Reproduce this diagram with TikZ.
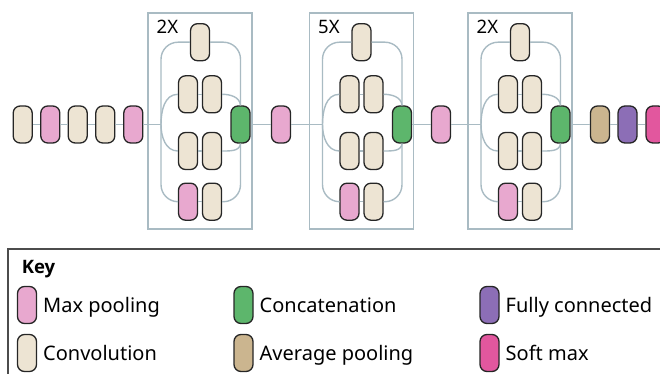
\documentclass[tikz,border=0pt]{standalone}
\usepackage{fontspec}
\setmainfont{Noto Sans}
\newfontfamily\keyfont{Open Sans}
\usetikzlibrary{calc}

\definecolor{convC}{HTML}{EDE4D3}
\definecolor{poolC}{HTML}{E8A8CF}
\definecolor{catC}{HTML}{5DB66C}
\definecolor{avgC}{HTML}{CBB58F}
\definecolor{fcC}{HTML}{8C6EB6}
\definecolor{smC}{HTML}{E2579E}
\definecolor{linkC}{HTML}{A9BBC3}

\tikzset{
  layer/.style={draw=black!85, line width=1.3pt, rounded corners=7pt,
                minimum width=19pt, minimum height=37pt, inner sep=0pt},
  conv/.style={layer, fill=convC},
  maxpool/.style={layer, fill=poolC},
  concat/.style={layer, fill=catC},
  avgpool/.style={layer, fill=avgC},
  fullconn/.style={layer, fill=fcC},
  softmax/.style={layer, fill=smC},
  link/.style={draw=linkC, line width=1.4pt},
  frame/.style={draw=linkC, line width=1.3pt},
  keytext/.style={anchor=base west, inner sep=0pt}
}

\begin{document}
\begin{tikzpicture}[x=1pt, y=1pt, font=\fontsize{20}{24}\selectfont]
\useasboundingbox (0,0) rectangle (660,-374);

% stem
\node[conv] (s1) at (22.7,-124.5) {};
\node[maxpool] (s2) at (50.3,-124.5) {};
\node[conv] (s3) at (77.7,-124.5) {};
\node[conv] (s4) at (105.3,-124.5) {};
\node[maxpool] (s5) at (133.3,-124.5) {};
\foreach \a/\b in {s1/s2, s2/s3, s3/s4, s4/s5}
  \draw[link] (\a.east) -- (\b.west);

% inception modules
\foreach \m/\cx/\rep in {1/200/2X, 2/361.5/5X, 3/520/2X} {
  \draw[frame] (\cx-52,-13) rectangle (\cx+52,-229);
  \node[anchor=base west, inner sep=0pt, font=\fontsize{18.5}{22}\selectfont]
    (rep\m) at (\cx-43.5,-33.5) {\rep};
  \node[conv] (t\m) at (\cx,-42.2) {};
  \node[conv] (a\m) at (\cx-12,-94.3) {};
  \node[conv] (b\m) at (\cx+12,-94.3) {};
  \node[conv] (c\m) at (\cx-12,-151) {};
  \node[conv] (d\m) at (\cx+12,-151) {};
  \node[maxpool] (e\m) at (\cx-12,-201.7) {};
  \node[conv] (f\m) at (\cx+12,-201.7) {};
  \node[concat] (cat\m) at (\cx+40.5,-124.5) {};
  \coordinate (in\m) at (\cx-39,-124.5);
  \draw[link] (a\m.east) -- (b\m.west) (c\m.east) -- (d\m.west)
              (e\m.east) -- (f\m.west);
  \draw[link, rounded corners=17pt] (t\m.west) -| (in\m) |- (e\m.west);
  \draw[link, rounded corners=17pt] (t\m.east) -| (cat\m.north);
  \draw[link, rounded corners=17pt] (f\m.east) -| (cat\m.south);
  \draw[link] (a\m.west) to[out=180, in=90] (in\m) to[out=-90, in=180] (c\m.west);
  \draw[link] (b\m.east) to[out=0, in=95] (cat\m.north);
  \draw[link] (d\m.east) to[out=0, in=-95] (cat\m.south);
}

% pooling between modules and head
\node[maxpool] (p1) at (281,-124.5) {};
\node[maxpool] (p2) at (441,-124.5) {};
\node[avgpool] (avg) at (600,-124.5) {};
\node[fullconn] (fc) at (627.5,-124.5) {};
\node[softmax] (sm) at (655.5,-124.5) {};
\draw[link] (s5.east) -- (in1);
\draw[link] (cat1.east) -- (p1.west) (p1.east) -- (in2);
\draw[link] (cat2.east) -- (p2.west) (p2.east) -- (in3);
\draw[link] (cat3.east) -- (avg.west) (avg.east) -- (fc.west)
            (fc.east) -- (sm.west);

% key
\draw[draw=black!70, line width=1.3pt] (8,-249) rectangle (680,-400);
\node[keytext, font=\fontsize{18.5}{22}\keyfont\bfseries] (key) at (21.7,-273.3) {Key};
\foreach \s/\x/\y/\t in {maxpool/27/305/Max pooling, conv/27/353/Convolution,
    concat/243.5/305/Concatenation, avgpool/243.5/353/Average pooling,
    fullconn/489.5/305/Fully connected, softmax/489.5/353/Soft max}
  \node[\s] (k\s) at (\x,-\y) {}
    node[keytext] (l\s) at (\x+16,-\y-7) {\t};
\end{tikzpicture}
\end{document}
